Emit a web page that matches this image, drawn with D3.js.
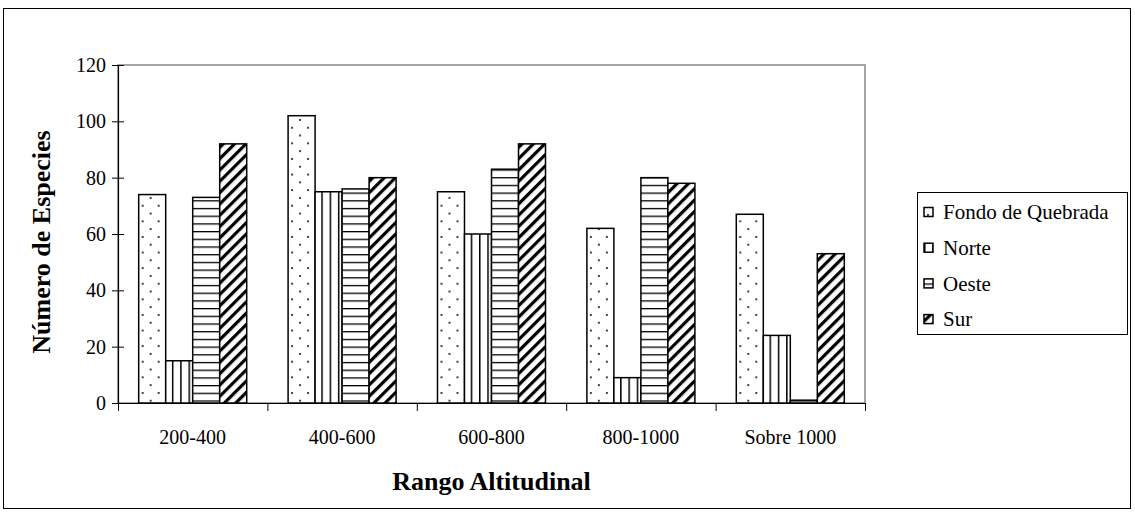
<!DOCTYPE html>
<html>
<head>
<meta charset="utf-8">
<script src="https://cdn.jsdelivr.net/npm/d3@7"></script>
<style>
  html, body { margin: 0; padding: 0; background: #fff; }
  svg { display: block; }
  svg text { font-family: "Liberation Serif", "Times New Roman", serif; fill: #000; }
</style>
</head>
<body>
<svg id="chart" width="1135" height="517"></svg>
<script>
const categories = ["200-400", "400-600", "600-800", "800-1000", "Sobre 1000"];
const seriesNames = ["Fondo de Quebrada", "Norte", "Oeste", "Sur"];
const fondoDeQuebrada = [74, 102, 75, 62, 67];
const norte = [15, 75, 60, 9, 24];
const oeste = [73, 76, 83, 80, 1];
const sur = [92, 80, 92, 78, 53];
const yTicks = [0, 20, 40, 60, 80, 100, 120];
const yTitle = "Número de Especies";
const xTitle = "Rango Altitudinal";

const seriesValues = [fondoDeQuebrada, norte, oeste, sur];
const patternIds = ["pDots", "pVert", "pHoriz", "pDiag"];
const SERIF = "Liberation Serif";

const svg = d3.select("#chart");
const plot = { left: 118, right: 865, top: 65, bottom: 403 };

// outer frame
svg.append("rect").attr("x", 3.5).attr("y", 8.5).attr("width", 1127).attr("height", 500)
  .attr("fill", "#fff").attr("stroke", "#000").attr("stroke-width", 1);

// patterns
const defs = svg.append("defs");
const pd = defs.append("pattern").attr("id", "pDots").attr("patternUnits", "userSpaceOnUse")
  .attr("width", 16).attr("height", 15.6);
pd.append("rect").attr("width", 16).attr("height", 15.6).attr("fill", "#fff");
pd.append("circle").attr("cx", 4).attr("cy", 3).attr("r", 1).attr("fill", "#000");
pd.append("circle").attr("cx", 12).attr("cy", 10.8).attr("r", 1).attr("fill", "#000");

const pv = defs.append("pattern").attr("id", "pVert").attr("patternUnits", "userSpaceOnUse")
  .attr("width", 8.3).attr("height", 10);
pv.append("rect").attr("width", 8.3).attr("height", 10).attr("fill", "#fff");
pv.append("line").attr("x1", 0.5).attr("x2", 0.5).attr("y1", 0).attr("y2", 10)
  .attr("stroke", "#000").attr("stroke-width", 2);

const ph = defs.append("pattern").attr("id", "pHoriz").attr("patternUnits", "userSpaceOnUse")
  .attr("width", 10).attr("height", 7.7);
ph.append("rect").attr("width", 10).attr("height", 7.7).attr("fill", "#fff");
ph.append("line").attr("x1", 0).attr("x2", 10).attr("y1", 0.5).attr("y2", 0.5)
  .attr("stroke", "#000").attr("stroke-width", 1.6);

const pg = defs.append("pattern").attr("id", "pDiag").attr("patternUnits", "userSpaceOnUse")
  .attr("width", 8).attr("height", 8).attr("patternTransform", "rotate(45)");
pg.append("rect").attr("width", 8).attr("height", 8).attr("fill", "#fff");
pg.append("line").attr("x1", 1.6).attr("x2", 1.6).attr("y1", 0).attr("y2", 8)
  .attr("stroke", "#000").attr("stroke-width", 3.2);

// scales
const x0 = d3.scaleBand().domain(categories).range([plot.left, plot.right])
  .paddingInner(0.277).paddingOuter(0.1385);
const x1 = d3.scaleBand().domain(seriesNames).range([0, x0.bandwidth()]);
const y = d3.scaleLinear().domain([0, 120]).range([plot.bottom, plot.top]);
const xEdges = d3.scaleLinear().domain([0, categories.length]).range([plot.left, plot.right]);

// plot area border (gray)
svg.append("rect").attr("x", plot.left).attr("y", plot.top)
  .attr("width", plot.right - plot.left).attr("height", plot.bottom - plot.top)
  .attr("fill", "none").attr("stroke", "#888").attr("stroke-width", 1.5);

// bars
const rows = categories.map((c, i) => ({ cat: c, vals: seriesNames.map((s, j) => ({ s, j, v: seriesValues[j][i] })) }));
const groups = svg.append("g").selectAll("g").data(rows).join("g")
  .attr("transform", d => `translate(${x0(d.cat)},0)`);
groups.selectAll("rect").data(d => d.vals).join("rect")
  .attr("x", d => x1(d.s))
  .attr("y", d => y(d.v))
  .attr("width", x1.bandwidth())
  .attr("height", d => y(0) - y(d.v))
  .attr("fill", d => `url(#${patternIds[d.j]})`)
  .attr("stroke", "#000").attr("stroke-width", 1.5);

// y axis
const yAxis = svg.append("g").attr("transform", `translate(${plot.left},0)`)
  .call(d3.axisLeft(y).tickValues(yTicks).tickSize(6).tickSizeOuter(0).tickPadding(6));
yAxis.attr("font-family", SERIF).attr("font-size", 20);
yAxis.selectAll(".tick line").attr("x1", 6).attr("stroke", "#000");
yAxis.select(".domain").attr("stroke", "#000").attr("stroke-width", 1.2);
yAxis.selectAll("text").attr("fill", "#000");

// x axis: boundary ticks
const xTickAxis = svg.append("g").attr("transform", `translate(0,${plot.bottom})`)
  .call(d3.axisBottom(xEdges).tickValues(d3.range(categories.length + 1)).tickFormat("").tickSize(8).tickSizeOuter(0));
xTickAxis.select(".domain").attr("stroke", "#000").attr("stroke-width", 1.2);
xTickAxis.selectAll(".tick line").attr("stroke", "#000");

// x axis: labels
const xLabAxis = svg.append("g").attr("transform", `translate(0,${plot.bottom})`)
  .call(d3.axisBottom(x0).tickSize(0).tickPadding(27));
xLabAxis.attr("font-family", SERIF).attr("font-size", 20);
xLabAxis.select(".domain").remove();
xLabAxis.selectAll("text").attr("fill", "#000");

// axis titles
svg.append("text").attr("transform", `translate(50,242) rotate(-90)`)
  .attr("text-anchor", "middle").attr("font-family", SERIF).attr("font-size", 26).attr("font-weight", "bold")
  .text(yTitle);
svg.append("text").attr("x", (plot.left + plot.right) / 2).attr("y", 490)
  .attr("text-anchor", "middle").attr("font-family", SERIF).attr("font-size", 26).attr("font-weight", "bold")
  .text(xTitle);

// legend
const legend = svg.append("g");
legend.append("rect").attr("x", 917.5).attr("y", 192.5).attr("width", 210).attr("height", 142)
  .attr("fill", "#fff").attr("stroke", "#000").attr("stroke-width", 1);
const li = legend.selectAll("g.item").data(seriesNames).join("g").attr("class", "item")
  .attr("transform", (d, i) => `translate(924,${212 + i * 35.7})`);
li.append("rect").attr("x", 0).attr("y", -4.5).attr("width", 9).attr("height", 9)
  .attr("fill", (d, i) => `url(#${patternIds[i]})`).attr("stroke", "#000").attr("stroke-width", 1.5);
li.append("text").attr("x", 19).attr("y", 0).attr("dy", "0.35em")
  .attr("font-family", SERIF).attr("font-size", 21).text(d => d);
</script>
</body>
</html>
